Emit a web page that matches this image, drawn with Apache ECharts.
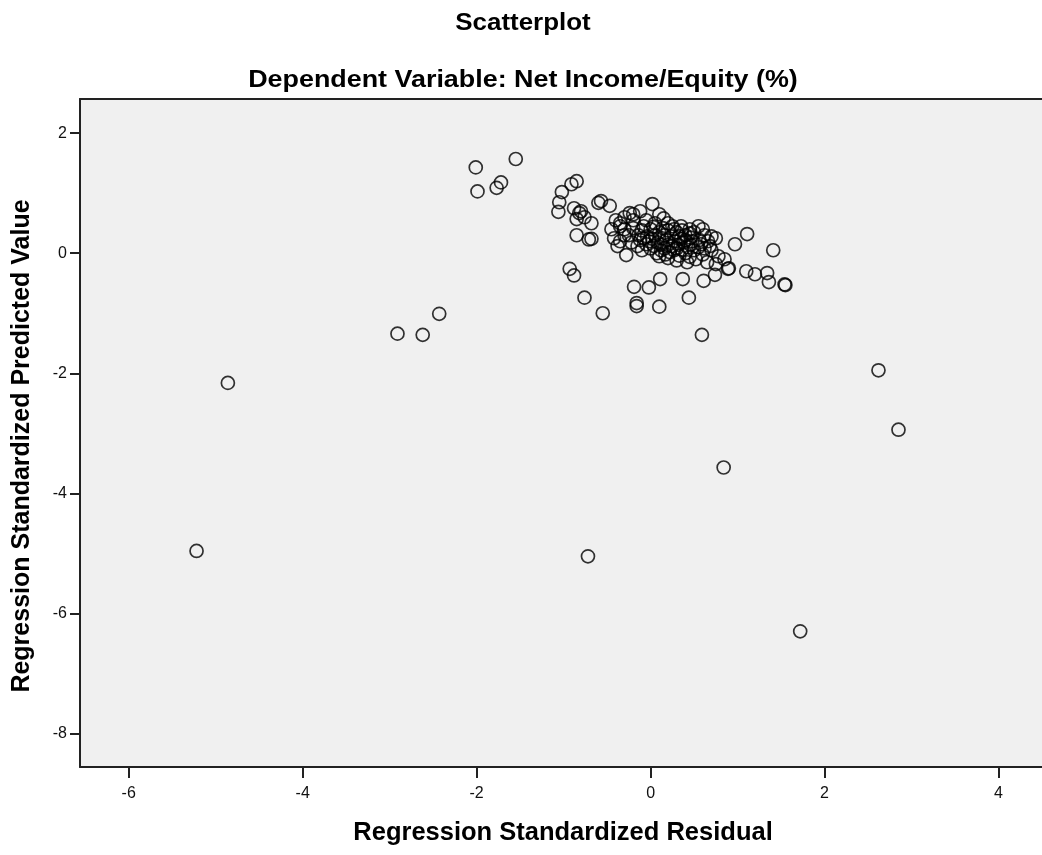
<!DOCTYPE html>
<html>
<head>
<meta charset="utf-8">
<script src="https://cdn.jsdelivr.net/npm/echarts@6/dist/echarts.min.js"></script>
<style>html,body{margin:0;padding:0;background:#fff;}#c{width:1042px;height:855px;}</style>
</head>
<body>
<div id="c"></div>
<script>
const titleText = "Scatterplot";
const subtitleText = "Dependent Variable: Net Income/Equity (%)";
const xAxisTitle = "Regression Standardized Residual";
const yAxisTitle = "Regression Standardized Predicted Value";
const xTicks = [-6, -4, -2, 0, 2, 4];
const yTicks = [2, 0, -2, -4, -6, -8];

const outliers = [
  [-5.22,-4.96],[-4.86,-2.16],[-2.91,-1.34],[-2.62,-1.36],[-2.43,-1.01],
  [-0.72,-5.05],[0.84,-3.57],[1.72,-6.30],[2.62,-1.95],[2.85,-2.94],[0.59,-1.36]
];
const upperLeft = [
  [-2.01,1.43],[-1.99,1.03],[-1.77,1.09],[-1.72,1.18],[-1.55,1.57],
  [-1.06,0.69],[-1.05,0.85],[-1.02,1.02],[-0.91,1.15],[-0.85,1.20],
  [-0.88,0.75],[-0.82,0.67],[-0.85,0.57],[-0.68,0.50],[-0.85,0.30],
  [-0.71,0.23],[-0.68,0.24],[-0.60,0.84],[-0.57,0.87],[-0.47,0.79],
  [-0.80,0.70],[-0.76,0.60]
];
const lowerBand = [
  [-0.93,-0.26],[-0.88,-0.37],[-0.76,-0.74],[-0.55,-1.00],[-0.19,-0.56],
  [-0.16,-0.83],[-0.16,-0.88],[-0.02,-0.57],[0.10,-0.89],[0.11,-0.43],
  [0.37,-0.43],[0.44,-0.74],[0.61,-0.46],[0.74,-0.36],[0.89,-0.26],
  [0.97,0.15],[1.11,0.32],[1.41,0.05],[1.10,-0.30],[1.20,-0.35],
  [1.34,-0.33],[1.36,-0.48],[1.55,-0.53],[1.54,-0.52],[-0.28,-0.03]
];
const cluster = [
  [0.02,0.82],
  [-0.24,0.67],[-0.12,0.70],[0.10,0.65],[-0.40,0.55],[-0.30,0.60],[-0.20,0.65],
  [-0.35,0.50],[-0.20,0.55],[-0.05,0.55],[0.05,0.50],[0.20,0.50],[0.35,0.45],
  [0.45,0.40],[0.60,0.40],[0.55,0.45],[0.15,0.58],[-0.35,0.45],[-0.45,0.40],
  [-0.30,0.40],[-0.20,0.42],[-0.10,0.38],[0.00,0.40],[0.10,0.35],[0.20,0.38],
  [0.30,0.35],[0.40,0.30],[0.50,0.35],[0.62,0.30],[0.70,0.28],[-0.25,0.30],
  [0.05,0.30],[0.25,0.45],[-0.30,0.30],[-0.42,0.25],
  [-0.35,0.20],[-0.22,0.18],[-0.12,0.22],[-0.02,0.20],[0.08,0.18],[0.18,0.22],
  [0.28,0.20],[0.38,0.18],[0.48,0.20],[0.58,0.15],[0.68,0.12],[0.75,0.25],
  [-0.15,0.12],[0.13,0.25],[0.33,0.28],[0.43,0.10],[-0.38,0.12],
  [-0.10,0.05],[0.00,0.08],[0.12,0.05],[0.22,0.02],[0.30,0.08],[0.40,0.00],
  [0.50,0.05],[0.60,-0.02],[0.70,0.05],[0.78,-0.05],[0.85,-0.10],[-0.05,0.15],
  [0.25,0.12],[0.55,0.10],
  [0.10,-0.05],[0.20,-0.08],[0.30,-0.12],[0.42,-0.15],[0.52,-0.10],[0.65,-0.15],
  [0.75,-0.18],[0.90,-0.25]
];
const clusterCore = [
  [-0.08,0.45],[0.03,0.44],[0.14,0.42],[0.27,0.40],[0.36,0.38],[0.45,0.33],
  [-0.14,0.30],[-0.04,0.28],[0.16,0.30],[0.24,0.28],[0.35,0.24],[0.46,0.26],
  [-0.08,0.25],[0.02,0.24],[0.12,0.14],[0.20,0.14],[0.32,0.14],[0.40,0.22],
  [0.04,0.12],[0.16,0.08],[0.27,0.05],[0.36,0.06],[0.46,0.14],[0.56,0.22],
  [0.07,0.00],[0.17,-0.02],[0.33,-0.04],[0.45,-0.06],[0.62,0.08],[0.66,0.20]
];

const allPoints = outliers.concat(upperLeft, lowerBand, cluster, clusterCore);

const chart = echarts.init(document.getElementById('c'), null, {renderer: 'canvas'});
const fontFam = 'Arial, "Liberation Sans", Helvetica, sans-serif';
const axisLineStyle = {color: '#222', width: 2};
chart.setOption({
  animation: false,
  backgroundColor: '#ffffff',
  grid: {
    left: 80, top: 99, right: 0, height: 668,
    show: true, backgroundColor: '#f0f0f0', borderWidth: 0
  },
  xAxis: [{
    type: 'value', min: -6.56, max: 4.5, position: 'bottom',
    axisLine: {show: true, onZero: false, lineStyle: axisLineStyle},
    axisTick: {show: true, length: 11, customValues: xTicks, lineStyle: axisLineStyle},
    axisLabel: {customValues: xTicks, fontFamily: fontFam, fontSize: 16, color: '#111', margin: 19},
    splitLine: {show: false}
  }, {
    type: 'value', min: -6.56, max: 4.5, position: 'top',
    axisLine: {show: true, onZero: false, lineStyle: axisLineStyle},
    axisTick: {show: false}, axisLabel: {show: false}, splitLine: {show: false}
  }],
  yAxis: {
    type: 'value', min: -8.56, max: 2.57,
    axisLine: {show: true, onZero: false, lineStyle: axisLineStyle},
    axisTick: {show: true, length: 10, customValues: yTicks, lineStyle: axisLineStyle},
    axisLabel: {customValues: yTicks, fontFamily: fontFam, fontSize: 16, color: '#111', margin: 13},
    splitLine: {show: false}
  },
  graphic: [
    {type: 'text', x: 523, y: 23, scaleX: 1.08, style: {text: titleText, font: 'bold 24px ' + fontFam, fill: '#000', textAlign: 'center', textVerticalAlign: 'middle'}},
    {type: 'text', x: 523, y: 80, scaleX: 1.12, style: {text: subtitleText, font: 'bold 24px ' + fontFam, fill: '#000', textAlign: 'center', textVerticalAlign: 'middle'}},
    {type: 'text', x: 563, y: 833, style: {text: xAxisTitle, font: 'bold 25.5px ' + fontFam, fill: '#000', textAlign: 'center', textVerticalAlign: 'middle'}},
    {type: 'text', x: 22, y: 446, rotation: Math.PI / 2, style: {text: yAxisTitle, font: 'bold 25px ' + fontFam, fill: '#000', textAlign: 'center', textVerticalAlign: 'middle'}}
  ],
  series: [{
    type: 'scatter',
    data: allPoints,
    symbol: 'circle',
    symbolSize: 13,
    itemStyle: {color: 'rgba(0,0,0,0)', borderColor: '#000', borderWidth: 1.7}
  }]
});
</script>
</body>
</html>
